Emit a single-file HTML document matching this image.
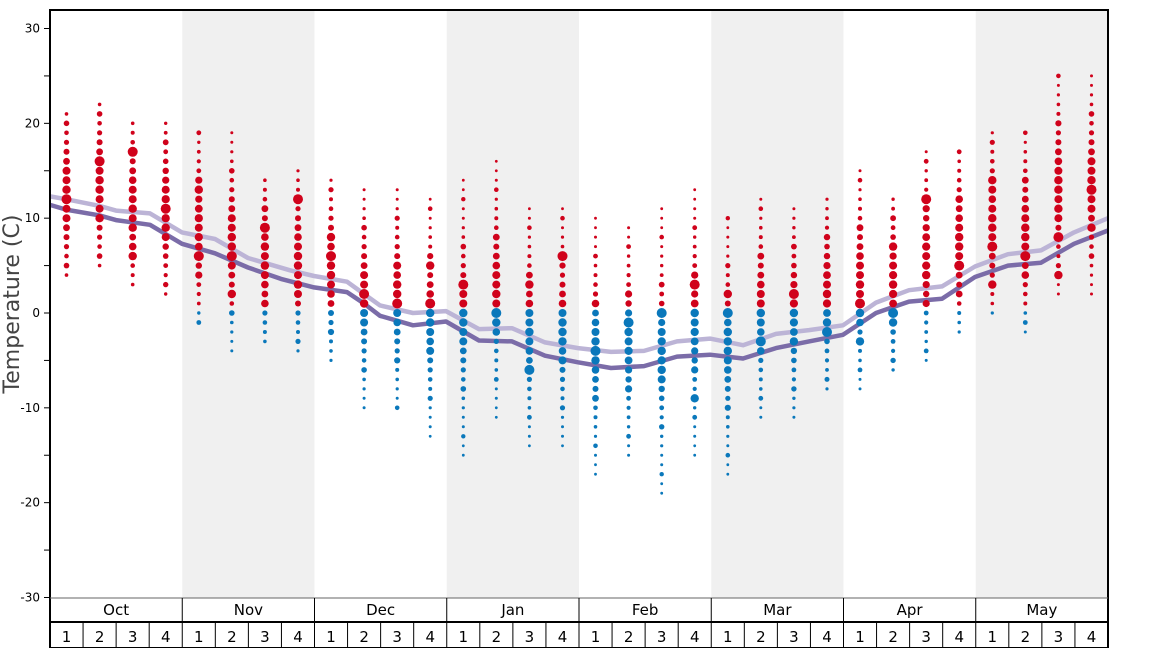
<!DOCTYPE html>
<html><head><meta charset="utf-8"><style>
html,body{margin:0;padding:0;background:#fff;}
svg{display:block;font-family:"DejaVu Sans","Liberation Sans",sans-serif;}
</style></head><body>
<svg id="s" width="1168" height="648" xmlns="http://www.w3.org/2000/svg"></svg>
<script>
const s=document.getElementById('s');
let h='';
const X0=50,X1=1108,MW=(X1-X0)/8,WW=MW/4;
const Y=t=>313-t*9.483;
[1,3,5,7].forEach(m=>{h+=`<rect x="${X0+m*MW}" y="10" width="${MW}" height="588" fill="#f0f0f0"/>`;});
for(let t=-30;t<=30;t+=5){const y=Y(t);h+=`<line x1="44" x2="50" y1="${y}" y2="${y}" stroke="#000"/>`;
 if(t%10==0)h+=`<text x="40" y="${y+4}" font-size="12" text-anchor="end">${t}</text>`;}
h+=`<text transform="translate(19,304) rotate(-90)" font-size="22" fill="#444" text-anchor="middle">Temperature (C)</text>`;
const dark=[[50,11.4],[66,10.9],[99,10.3],[116,9.8],[150,9.3],[166,8.3],[182,7.3],[215,6.3],[248,4.8],[281,3.6],[314,2.7],[347,2.2],[364,1],[380,-0.3],[413,-1.3],[446,-0.9],[479,-2.9],[512,-3],[545,-4.5],[578,-5.2],[611,-5.8],[644,-5.6],[677,-4.6],[710,-4.4],[743,-4.8],[776,-3.7],[809,-3],[843,-2.3],[876,0],[909,1.2],[942,1.5],[975,3.8],[1008,5],[1041,5.3],[1074,7.3],[1108,8.7]];
const light=[[50,12.3],[66,12],[99,11.3],[116,10.8],[150,10.5],[166,9.5],[182,8.5],[215,7.8],[248,5.8],[290,4.5],[314,3.9],[347,3.3],[364,2],[380,0.8],[413,0],[446,0.2],[479,-1.7],[512,-1.6],[545,-3.1],[578,-3.7],[611,-4.1],[644,-4],[677,-3],[710,-2.7],[743,-3.4],[776,-2.2],[809,-1.8],[843,-1.3],[876,1.1],[909,2.4],[942,2.8],[975,4.9],[1008,6.2],[1041,6.6],[1074,8.5],[1108,10]];
const pl=(a,c)=>`<polyline fill="none" stroke="${c}" stroke-width="4.5" stroke-linejoin="round" points="${a.map(p=>p[0]+','+Y(p[1]).toFixed(1)).join(' ')}"/>`;
h+=pl(light,'#bcb4d6')+pl(dark,'#7b6ca8');
const W=[[4,21,[12]],[5,22,[16,10]],[3,20,[17,9,6]],[2,20,[11,9]],
[-1,19,[6,13]],[-4,19,[6,2]],[-3,14,[9,7]],[-4,15,[12,3]],
[-5,14,[6,8]],[-10,13,[2]],[-10,13,[1,3]],[-13,12,[1,5]],
[-15,14,[3,-1]],[-11,16,[0,-1,2]],[-14,11,[-6,3]],[-14,11,[6,-3]],
[-17,10,[-4,-5]],[-15,9,[-1,-2]],[-19,11,[0,-6]],[-15,13,[3,0,-9]],
[-17,10,[0,-2,2]],[-11,12,[-3]],[-11,11,[2,-3]],[-8,12,[-2,-1,2]],
[-8,15,[1,0,-3]],[-6,12,[0,-1,7]],[-5,17,[12,4]],[-2,17,[5,7]],
[0,19,[7,14,3]],[-2,19,[6,9]],[2,25,[8,11,4]],[2,25,[13,14,9]]];
W.forEach((w,i)=>{const x=X0+WW*(i+0.5);const c=(w[0]+w[1])/2;
 for(let t=w[0];t<=w[1];t++){let r=1.4+2.8*Math.exp(-Math.pow((t-c)/6,2));
  if(((t*7+i*3)%5)==0)r=Math.min(r+0.8,4);
  if(w[2].indexOf(t)>=0)r=w[2].indexOf(t)==0?5:4.2;
  h+=`<circle cx="${x.toFixed(1)}" cy="${Y(t).toFixed(1)}" r="${r.toFixed(1)}" fill="${t>0?'#d0021b':'#0a78bb'}"/>`;}});
h+=`<rect x="50" y="10" width="1058" height="638" fill="none" stroke="#000" stroke-width="2"/>`;
h+=`<line x1="50" x2="1108" y1="598" y2="598" stroke="#666"/>`;
h+=`<line x1="50" x2="1108" y1="622" y2="622" stroke="#000" stroke-width="2"/>`;
const M=['Oct','Nov','Dec','Jan','Feb','Mar','Apr','May'];
M.forEach((m,i)=>{const x=X0+i*MW;if(i)h+=`<line x1="${x}" x2="${x}" y1="598" y2="648" stroke="#000"/>`;
 h+=`<text x="${x+MW/2}" y="615" font-size="15" text-anchor="middle">${m}</text>`;
 for(let k=0;k<4;k++){const wx=x+k*WW;if(k)h+=`<line x1="${wx}" x2="${wx}" y1="622" y2="648" stroke="#000"/>`;
  h+=`<text x="${wx+WW/2}" y="642" font-size="15" text-anchor="middle">${k+1}</text>`;}});
s.innerHTML=h;
</script>
</body></html>
